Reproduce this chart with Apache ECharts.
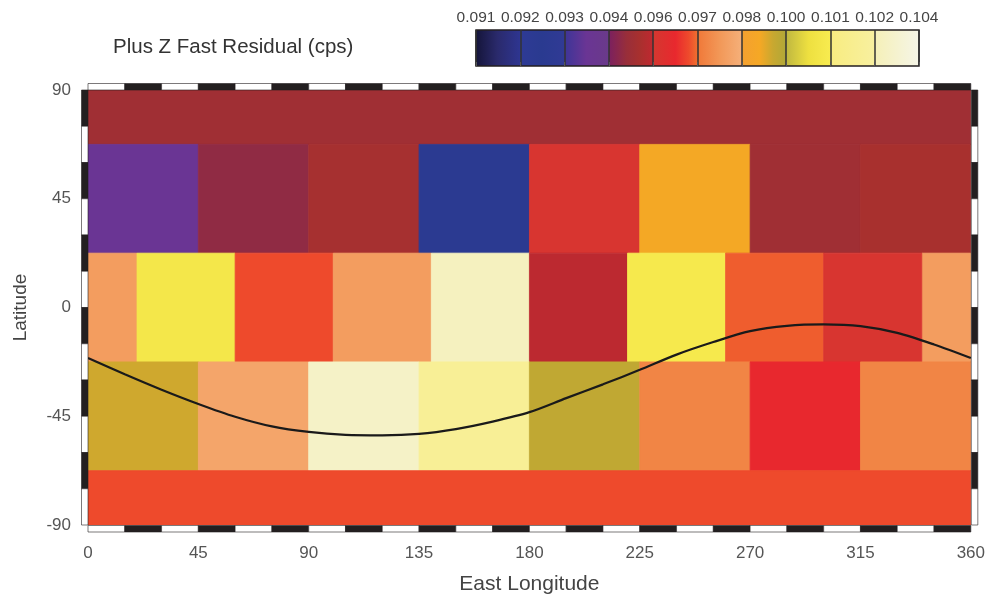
<!DOCTYPE html>
<html><head><meta charset="utf-8">
<script src="https://cdn.jsdelivr.net/npm/echarts@6/dist/echarts.min.js"></script>
<style>html,body{margin:0;padding:0;background:#fff;overflow:hidden}#c{width:988px;height:600px}</style>
</head><body><div id="c"></div>
<script>
// ---------- data ----------
const lonTicks = [0, 45, 90, 135, 180, 225, 270, 315, 360];
const latTicks = [-90, -45, 0, 45, 90];
const latBands = [[67.5, 90], [22.5, 67.5], [-22.5, 22.5], [-67.5, -22.5], [-90, -67.5]];
const lonEdgesBand0 = [0, 360];
const lonEdgesBand1 = [0, 45, 90, 135, 180, 225, 270, 315, 360];
const lonEdgesBand2 = [-20, 20, 60, 100, 140, 180, 220, 260, 300, 340];
const lonEdgesBand3 = [0, 45, 90, 135, 180, 225, 270, 315, 360];
const lonEdgesBand4 = [0, 360];
const valuesBand0 = [0.09562];
const valuesBand1 = [0.09425, 0.09529, 0.09575, 0.09282, 0.09633, 0.09932, 0.09562, 0.09581];
const valuesBand2 = [0.09828, 0.10114, 0.09724, 0.09828, 0.10290, 0.09614, 0.10127, 0.09737, 0.09633];
const valuesBand3 = [0.09965, 0.09850, 0.10309, 0.10231, 0.09984, 0.09776, 0.09685, 0.09776];
const valuesBand4 = [0.09724];
const curveLon = [0, 15, 30, 45, 60, 75, 90, 105, 120, 135, 150, 165, 180, 195, 210, 225, 240, 255, 270, 285, 300, 315, 330, 345, 360];
const curveLat = [-20.9, -27.6, -34.0, -39.9, -45.2, -49.2, -51.5, -52.7, -52.9, -52.3, -50.3, -47.2, -43.3, -37.5, -31.8, -25.8, -19.5, -14.3, -9.8, -7.6, -7.0, -7.7, -10.5, -15.3, -20.9];
const cbMin = 0.091, cbMax = 0.104, cbStep = 0.0013;
// colormap (position along bar 0..1, colour)
const paletteStops = [
  [0.00, '#141438'], [0.05, '#2a2a6c'], [0.10, '#2e3590'],
  [0.10, '#2e3a95'], [0.15, '#2a3a90'], [0.20, '#303a95'],
  [0.20, '#3c3598'], [0.25, '#6a3594'], [0.30, '#6a3a8a'],
  [0.30, '#7a2060'], [0.34, '#982e3a'], [0.37, '#a8302e'], [0.40, '#c02830'],
  [0.40, '#d43830'], [0.45, '#e8282e'], [0.48, '#ee4a2c'], [0.50, '#f07030'],
  [0.50, '#f07838'], [0.55, '#f29858'], [0.60, '#f5b07a'],
  [0.60, '#f4a030'], [0.64, '#f5a825'], [0.67, '#c8a830'], [0.70, '#b0a838'],
  [0.70, '#c0b840'], [0.75, '#eee040'], [0.80, '#f8ec50'],
  [0.80, '#f8ec80'], [0.90, '#f8f0a0'],
  [0.90, '#f5f0b8'], [1.00, '#f5f5e8']
];

// ---------- helpers ----------
function hexRgb(h) { return [parseInt(h.substr(1, 2), 16), parseInt(h.substr(3, 2), 16), parseInt(h.substr(5, 2), 16)]; }
function paletteAt(t) {
  for (let i = 0; i < paletteStops.length - 1; i++) {
    const a = paletteStops[i], b = paletteStops[i + 1];
    if (b[0] > a[0] && t >= a[0] && t <= b[0]) {
      const f = (t - a[0]) / (b[0] - a[0]);
      const ca = hexRgb(a[1]), cb = hexRgb(b[1]);
      return 'rgb(' + ca.map((v, k) => Math.round(v + (cb[k] - v) * f)).join(',') + ')';
    }
  }
  return paletteStops[paletteStops.length - 1][1];
}
const mapColors = [];
for (let i = 0; i <= 260; i++) mapColors.push(paletteAt(i / 260));

const bandEdges = [lonEdgesBand0, lonEdgesBand1, lonEdgesBand2, lonEdgesBand3, lonEdgesBand4];
const bandValues = [valuesBand0, valuesBand1, valuesBand2, valuesBand3, valuesBand4];
const cells = [];
bandValues.forEach((vals, r) => {
  const edges = bandEdges[r];
  vals.forEach((v, i) => {
    const lo = edges[i], hi = (i + 1 < edges.length) ? edges[i + 1] : edges[0] + 360;
    cells.push([lo, hi, latBands[r][0], latBands[r][1], v]);
  });
});
const curveData = curveLon.map((x, i) => [x, curveLat[i]]);

// frame segments (black/white map border)
const frameData = [];
for (let i = 0; i < 24; i++) {
  frameData.push([0, i * 15, i * 15 + 15, i % 2]);
  frameData.push([1, i * 15, i * 15 + 15, i % 2]);
}
for (let j = 0; j < 12; j++) {
  frameData.push([2, 90 - j * 15, 75 - j * 15, (j + 1) % 2]);
  frameData.push([3, 90 - j * 15, 75 - j * 15, (j + 1) % 2]);
}

function renderCell(params, api) {
  const x0 = api.value(0), x1 = api.value(1), y0 = api.value(2), y1 = api.value(3);
  const color = api.visual('color');
  const children = [];
  [0, 360, -360].forEach(s => {
    const a = Math.max(x0 + s, 0), b = Math.min(x1 + s, 360);
    if (b <= a) return;
    const p0 = api.coord([a, y1]), p1 = api.coord([b, y0]);
    children.push({
      type: 'rect',
      shape: { x: p0[0], y: p0[1], width: p1[0] - p0[0], height: p1[1] - p0[1] },
      style: { fill: color, stroke: color, lineWidth: 0.8 }
    });
  });
  return { type: 'group', children };
}
function renderFrame(params, api) {
  const side = api.value(0), a = api.value(1), b = api.value(2), black = api.value(3);
  const W = 6.5;
  let shape;
  if (side === 0) { const p = api.coord([a, 90]), q = api.coord([b, 90]); shape = { x: p[0], y: p[1] - W, width: q[0] - p[0], height: W }; }
  else if (side === 1) { const p = api.coord([a, -90]), q = api.coord([b, -90]); shape = { x: p[0], y: p[1] + 0.5, width: q[0] - p[0], height: W }; }
  else if (side === 2) { const p = api.coord([0, a]), q = api.coord([0, b]); shape = { x: p[0] - W, y: p[1], width: W, height: q[1] - p[1] }; }
  else { const p = api.coord([360, a]), q = api.coord([360, b]); shape = { x: p[0] + 0.5, y: p[1], width: W, height: q[1] - p[1] }; }
  return { type: 'rect', shape, style: { fill: black ? '#231f20' : '#ffffff', stroke: '#231f20', lineWidth: 0.6 } };
}
function renderBar(params, api) {
  const p0 = api.coord([api.value(0), 1]), p1 = api.coord([api.value(1), 0]);
  return {
    type: 'rect',
    shape: { x: p0[0], y: p0[1], width: p1[0] - p0[0], height: p1[1] - p0[1] },
    style: {
      fill: { type: 'linear', x: 0, y: 0, x2: 1, y2: 0, colorStops: paletteStops.map(s => ({ offset: s[0], color: s[1] })) },
      stroke: '#231f20', lineWidth: 1.5
    }
  };
}

const FONT = 'Liberation Sans, Arial, Helvetica, sans-serif';
const chart = echarts.init(document.getElementById('c'), null, { renderer: 'canvas', width: 988, height: 600 });
chart.setOption({
  animation: false,
  backgroundColor: '#ffffff',
  title: {
    text: 'Plus Z Fast Residual (cps)', left: 113, top: 37, padding: 0,
    textStyle: { fontFamily: FONT, fontSize: 20.5, fontWeight: 'normal', color: '#333' }
  },
  grid: [
    { left: 88, top: 90, width: 884, height: 441 },
    { left: 476, top: 30, width: 443, height: 36 }
  ],
  xAxis: [
    {
      gridIndex: 0, type: 'value', min: lonTicks[0], max: lonTicks[lonTicks.length - 1], interval: 45,
      name: 'East Longitude', nameLocation: 'middle', nameGap: 49,
      nameTextStyle: { fontFamily: FONT, fontSize: 21, color: '#444' },
      axisLine: { show: false }, axisTick: { show: false }, splitLine: { show: false },
      axisLabel: { fontFamily: FONT, fontSize: 17, color: '#555', margin: 20, showMinLabel: true, showMaxLabel: true }
    },
    {
      gridIndex: 1, type: 'value', min: cbMin, max: cbMax, interval: cbStep, position: 'top', z: 5,
      axisLine: { show: false },
      axisTick: { show: true, length: 4, lineStyle: { color: '#555', width: 1 } },
      splitLine: { show: true, lineStyle: { color: '#333', width: 1.5 } },
      axisLabel: {
        fontFamily: FONT, fontSize: 15.5, color: '#444', margin: 4, showMinLabel: true, showMaxLabel: true,
        formatter: v => (Math.floor(v * 1000 + 1e-6) / 1000).toFixed(3)
      }
    }
  ],
  yAxis: [
    {
      gridIndex: 0, type: 'value', min: latTicks[0], max: latTicks[latTicks.length - 1], interval: 45,
      name: 'Latitude', nameLocation: 'middle', nameGap: 58, nameRotate: 90,
      nameTextStyle: { fontFamily: FONT, fontSize: 19, color: '#444' },
      axisLine: { show: false }, axisTick: { show: false }, splitLine: { show: false },
      axisLabel: { fontFamily: FONT, fontSize: 17, color: '#555', margin: 17 }
    },
    { gridIndex: 1, type: 'value', min: 0, max: 1, show: false }
  ],
  visualMap: {
    type: 'continuous', show: false, min: cbMin, max: cbMax, dimension: 4, seriesIndex: 0,
    inRange: { color: mapColors }
  },
  series: [
    { type: 'custom', xAxisIndex: 0, yAxisIndex: 0, renderItem: renderCell, data: cells, clip: true, silent: true, z: 1,
      encode: { x: [0, 1], y: [2, 3] } },
    { type: 'line', xAxisIndex: 0, yAxisIndex: 0, data: curveData, smooth: 0.3, showSymbol: false, symbol: 'none',
      lineStyle: { color: '#1a1a1a', width: 2.2 }, z: 4, silent: true },
    { type: 'custom', xAxisIndex: 0, yAxisIndex: 0, renderItem: renderFrame, data: frameData, clip: false, silent: true, z: 6,
      encode: { x: -1, y: -1 } },
    { type: 'custom', xAxisIndex: 1, yAxisIndex: 1, renderItem: renderBar, data: [[cbMin, cbMax]], silent: true, z: 1,
      encode: { x: [0, 1] } }
  ]
});
</script></body></html>
